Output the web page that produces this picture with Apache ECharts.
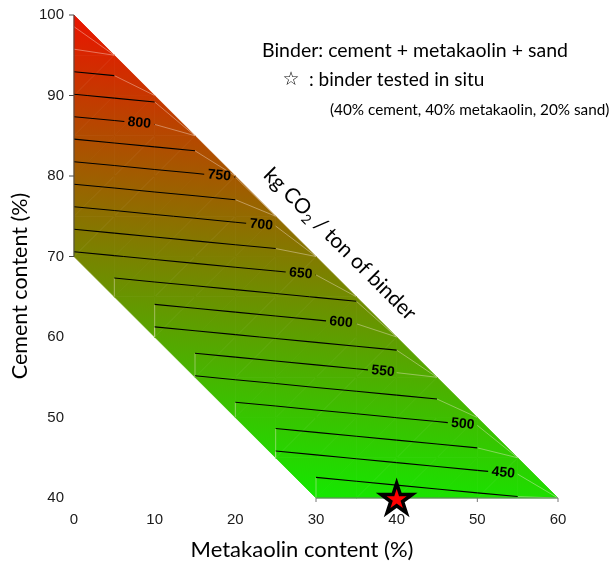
<!DOCTYPE html>
<html><head><meta charset="utf-8">
<script src="https://cdn.jsdelivr.net/npm/echarts@6/dist/echarts.min.js"></script>
<style>html,body{margin:0;padding:0;background:#fff}#c{width:611px;height:564px}</style>
</head><body><div id="c"></div>
<script>
// ---------------- data ----------------
const metakaolinTicks = [0, 10, 20, 30, 40, 50, 60];
const cementTicks = [40, 50, 60, 70, 80, 90, 100];
const gridStep = 5;
// cement levels of the grid rows (%), and first metakaolin value (%) of each row
const cementRows = [100, 95, 90, 85, 80, 75, 70, 65, 60, 55, 50, 45, 40];
const rowStartMetakaolin = [0, 0, 0, 0, 0, 0, 0, 5, 10, 15, 20, 25, 30];
// kg CO2 / ton of binder at grid points, metakaolin increasing by 5 along each row
const co2AtCement100 = [913.0];
const co2AtCement95 = [868.3, 872.6];
const co2AtCement90 = [823.6, 827.9, 832.2];
const co2AtCement85 = [778.8, 783.1, 787.4, 791.7];
const co2AtCement80 = [734.1, 738.4, 742.7, 747.0, 751.3];
const co2AtCement75 = [689.4, 693.7, 698.0, 702.3, 706.6, 710.9];
const co2AtCement70 = [644.7, 649.0, 653.3, 657.6, 661.9, 666.2, 670.5];
const co2AtCement65 = [604.2, 608.5, 612.8, 617.1, 621.4, 625.7, 630.0];
const co2AtCement60 = [563.8, 568.1, 572.4, 576.7, 581.0, 585.3, 589.6];
const co2AtCement55 = [523.4, 527.7, 532.0, 536.3, 540.6, 544.9, 549.2];
const co2AtCement50 = [483.0, 487.3, 491.6, 495.9, 500.2, 504.5, 508.8];
const co2AtCement45 = [442.5, 446.8, 451.1, 455.4, 459.7, 464.0, 468.3];
const co2AtCement40 = [402.1, 406.4, 410.7, 415.0, 419.3, 423.4, 424.8];
// contour levels and labelled contours
const contourLevels = [400, 425, 450, 475, 500, 525, 550, 575, 600, 625, 650, 675, 700, 725, 750, 775, 800, 825, 850, 875, 900];
const labelLevels = [800, 750, 700, 650, 600, 550, 500, 450];
const labelMetakaolin = [8.1, 18.0, 23.2, 28.1, 33.1, 38.3, 48.2, 53.2];
// binder tested in situ
const testedMetakaolin = [40];
const testedCement = [40];

// ---------------- build table ----------------
const co2Rows = [co2AtCement100, co2AtCement95, co2AtCement90, co2AtCement85, co2AtCement80,
  co2AtCement75, co2AtCement70, co2AtCement65, co2AtCement60, co2AtCement55, co2AtCement50,
  co2AtCement45, co2AtCement40];
function co2(m, c) {
  const i = cementRows.indexOf(c);
  if (i < 0) return undefined;
  const k = Math.round((m - rowStartMetakaolin[i]) / gridStep);
  if (k < 0 || k >= co2Rows[i].length) return undefined;
  return co2Rows[i][k];
}
const allVals = co2Rows.flat();
const VMIN = Math.min(...allVals), VMAX = Math.max(...allVals);
const GREEN = 'rgb(20,232,0)', MID = 'rgb(125,127,0)', RED = 'rgb(234,20,0)';
const LIGHT = 'rgba(255,235,225,0.5)';

function triGradient(p, v) {
  const d1x = p[1][0] - p[0][0], d1y = p[1][1] - p[0][1];
  const d2x = p[2][0] - p[0][0], d2y = p[2][1] - p[0][1];
  const dv1 = v[1] - v[0], dv2 = v[2] - v[0];
  const det = d1x * d2y - d1y * d2x;
  const a = (dv1 * d2y - d1y * dv2) / det;
  const b = (d1x * dv2 - dv1 * d2x) / det;
  const g2 = a * a + b * b;
  const sx = p[0][0] + (VMIN - v[0]) * a / g2, sy = p[0][1] + (VMIN - v[0]) * b / g2;
  const ex = p[0][0] + (VMAX - v[0]) * a / g2, ey = p[0][1] + (VMAX - v[0]) * b / g2;
  return new echarts.graphic.LinearGradient(sx, sy, ex, ey,
    [{offset: 0, color: GREEN}, {offset: 0.5, color: MID}, {offset: 1, color: RED}], true);
}

function renderSurface(params, api) {
  const P = (m, c) => api.coord([m, c]);
  const fills = [], blacks = [], lights = [], texts = [], frame = [];
  const segs = {};
  contourLevels.forEach(L => segs[L] = []);
  const xs = [], ys = [];
  for (let m = metakaolinTicks[0]; m < metakaolinTicks[metakaolinTicks.length - 1]; m += gridStep) xs.push(m);
  for (let c = cementTicks[0]; c < cementTicks[cementTicks.length - 1]; c += gridStep) ys.push(c);
  const lineEl = (a, b, stroke, w) => ({type: 'line', shape: {x1: a[0], y1: a[1], x2: b[0], y2: b[1]}, style: {stroke: stroke, lineWidth: w}});
  function tri(pts) {
    const p = pts.map(q => P(q[0], q[1])), v = pts.map(q => co2(q[0], q[1]));
    const grad = triGradient(p, v);
    fills.push({type: 'polygon', shape: {points: p}, style: {fill: grad, stroke: grad, lineWidth: 0.8}});
  }
  function cross(a, b, L) {
    const va = co2(a[0], a[1]), vb = co2(b[0], b[1]);
    if ((va - L) * (vb - L) >= 0) return null;
    const t = (L - va) / (vb - va);
    return [a[0] + t * (b[0] - a[0]), a[1] + t * (b[1] - a[1])];
  }
  // half cell along the boundary: contours reaching its diagonal are drawn light, towards the lower-right corner
  function triCell(verts, diagIdx, corner) {
    tri(verts);
    const edges = [[verts[0], verts[1]], [verts[1], verts[2]], [verts[2], verts[0]]];
    const cp = P(corner[0], corner[1]);
    contourLevels.forEach(L => {
      const cr = edges.map((e, i) => ({q: cross(e[0], e[1], L), i: i})).filter(o => o.q);
      if (cr.length < 2) return;
      const onDiag = cr.find(o => o.i === diagIdx);
      if (onDiag) {
        const other = cr.find(o => o.i !== diagIdx);
        lights.push(lineEl(P(other.q[0], other.q[1]), cp, LIGHT, 0.8));
      } else segs[L].push([cr[0].q, cr[1].q]);
    });
  }
  xs.forEach(x0 => ys.forEach(y0 => {
    const x1 = x0 + gridStep, y1 = y0 + gridStep;
    const BL = co2(x0, y0), BR = co2(x1, y0), TL = co2(x0, y1), TR = co2(x1, y1);
    const has = v => v !== undefined;
    if (has(BL) && has(BR) && has(TL) && has(TR)) {
      tri([[x0, y0], [x1, y0], [x1, y1]]);
      tri([[x0, y0], [x1, y1], [x0, y1]]);
      const edges = [[[x0, y0], [x1, y0]], [[x1, y0], [x1, y1]], [[x1, y1], [x0, y1]], [[x0, y1], [x0, y0]]];
      contourLevels.forEach(L => {
        const pts = edges.map(e => cross(e[0], e[1], L)).filter(q => q);
        for (let k = 0; k + 1 < pts.length; k += 2) segs[L].push([pts[k], pts[k + 1]]);
      });
    } else if (has(BL) && has(BR) && has(TL)) {
      triCell([[x0, y0], [x1, y0], [x0, y1]], 1, [x1, y0]);
    } else if (has(BR) && has(TL) && has(TR)) {
      triCell([[x1, y0], [x1, y1], [x0, y1]], 2, [x1, y0]);
    }
  }));
  // contour lines with gaps for labels
  contourLevels.forEach(L => {
    const li = labelLevels.indexOf(L);
    let gap = null;
    if (li >= 0) {
      const lx = labelMetakaolin[li];
      const sg = segs[L].find(s => Math.min(s[0][0], s[1][0]) <= lx && Math.max(s[0][0], s[1][0]) >= lx);
      if (sg) {
        let a = P(sg[0][0], sg[0][1]), b = P(sg[1][0], sg[1][1]);
        if (a[0] > b[0]) { const t = a; a = b; b = t; }
        const cx = P(lx, 0)[0];
        const slope = (b[1] - a[1]) / (b[0] - a[0]);
        const cy = a[1] + (cx - a[0]) * slope;
        gap = [cx - 15, cx + 15];
        texts.push({type: 'text', x: cx, y: cy, rotation: -Math.atan(slope),
          style: {text: String(L), fontFamily: 'Liberation Sans', fontWeight: 'bold', fontSize: 14,
            fill: '#000', align: 'center', verticalAlign: 'middle'}});
      }
    }
    segs[L].forEach(s => {
      let a = P(s[0][0], s[0][1]), b = P(s[1][0], s[1][1]);
      if (a[0] > b[0]) { const t = a; a = b; b = t; }
      const at = x => { const t = (x - a[0]) / (b[0] - a[0]); return [x, a[1] + t * (b[1] - a[1])]; };
      const pieces = [];
      if (gap && b[0] > gap[0] && a[0] < gap[1]) {
        if (a[0] < gap[0]) pieces.push([a, at(gap[0])]);
        if (b[0] > gap[1]) pieces.push([at(gap[1]), b]);
      } else pieces.push([a, b]);
      pieces.forEach(pc => blacks.push(lineEl(pc[0], pc[1], '#000', 1.1)));
    });
  });
  // partial axis frame where the surface touches the axes
  const leftCs = cementRows.filter((c, i) => rowStartMetakaolin[i] === metakaolinTicks[0]);
  const cLo = Math.min(...leftCs), cHi = Math.max(...leftCs);
  const bi = cementRows.indexOf(cementTicks[0]);
  const mLo = rowStartMetakaolin[bi];
  const mHi = mLo + (co2Rows[bi].length - 1) * gridStep;
  const fc = '#4a4a4a';
  frame.push(lineEl(P(metakaolinTicks[0], cLo), P(metakaolinTicks[0], cHi), fc, 1));
  cementTicks.filter(c => c >= cLo && c <= cHi).forEach(c => {
    const p = P(metakaolinTicks[0], c);
    frame.push(lineEl([p[0] - 5, p[1]], p, fc, 1));
  });
  frame.push(lineEl(P(mLo, cementTicks[0]), P(mHi, cementTicks[0]), '#777', 1));
  metakaolinTicks.filter(m => m >= mLo && m <= mHi).forEach(m => {
    const p = P(m, cementTicks[0]);
    frame.push(lineEl(p, [p[0], p[1] + 4], '#777', 1));
  });
  return {type: 'group', children: [].concat(fills, lights, blacks, frame, texts)};
}

function starPath() {
  let d = '';
  for (let i = 0; i < 10; i++) {
    const r = i % 2 ? 0.382 : 1, ang = -Math.PI / 2 + i * Math.PI / 5;
    d += (i ? 'L' : 'M') + (r * Math.cos(ang) * 100).toFixed(2) + ' ' + (r * Math.sin(ang) * 100).toFixed(2) + ' ';
  }
  return 'path://' + d + 'Z';
}

const chart = echarts.init(document.getElementById('c'), null, {renderer: 'canvas'});
const tickFont = {fontFamily: 'Liberation Sans', fontSize: 15, color: '#1a1a1a'};
chart.setOption({
  animation: false,
  backgroundColor: '#fff',
  grid: {left: 74, right: 53, top: 15, bottom: 66, containLabel: false},
  xAxis: {type: 'value', min: 0, max: 60, interval: 10,
    axisLine: {show: false}, axisTick: {show: false}, splitLine: {show: false},
    axisLabel: Object.assign({margin: 14}, tickFont)},
  yAxis: {type: 'value', min: 40, max: 100, interval: 10,
    axisLine: {show: false}, axisTick: {show: false}, splitLine: {show: false},
    axisLabel: Object.assign({margin: 10}, tickFont)},
  series: [
    {type: 'custom', silent: true, data: [[0, 40]], renderItem: renderSurface, z: 2},
    {type: 'scatter', silent: true, z: 5,
      data: testedMetakaolin.map((m, i) => [m, testedCement[i]]),
      symbol: starPath(), symbolKeepAspect: true, symbolSize: 31,
      itemStyle: {color: '#ff0000', borderColor: '#000', borderWidth: 3.5, opacity: 1}}
  ],
  graphic: [
    {type: 'text', x: 302, y: 550, style: {text: 'Metakaolin content (%)', fontFamily: 'Lato', fontSize: 22, fill: '#000', align: 'center', verticalAlign: 'middle'}},
    {type: 'text', x: 20, y: 286, rotation: Math.PI / 2, style: {text: 'Cement content (%)', fontFamily: 'Lato', fontSize: 21.5, fill: '#000', align: 'center', verticalAlign: 'middle'}},
    {type: 'text', x: 262, y: 51, style: {text: 'Binder: cement + metakaolin + sand', fontFamily: 'Lato', fontSize: 19.5, fill: '#000', align: 'left', verticalAlign: 'middle'}},
    {type: 'text', x: 291, y: 80, style: {text: '\u2606', fontFamily: 'DejaVu Sans', fontSize: 19, fill: '#000', align: 'center', verticalAlign: 'middle'}},
    {type: 'text', x: 309, y: 80, style: {text: ': binder tested in situ', fontFamily: 'Lato', fontSize: 19, fill: '#000', align: 'left', verticalAlign: 'middle'}},
    {type: 'text', x: 330, y: 110, style: {text: '(40% cement, 40% metakaolin, 20% sand)', fontFamily: 'Lato', fontSize: 15.3, fill: '#000', align: 'left', verticalAlign: 'middle'}},
    {type: 'text', x: 340, y: 244, rotation: -Math.PI / 4, style: {
      text: '{a|kg CO}{s|2}{a| / ton of binder}', align: 'center', verticalAlign: 'middle',
      rich: {a: {fontFamily: 'Lato', fontSize: 21, lineHeight: 27, fill: '#000', verticalAlign: 'middle'},
             s: {fontFamily: 'Lato', fontSize: 13.5, lineHeight: 13, fill: '#000', verticalAlign: 'bottom'}}}}
  ]
});
</script></body></html>
